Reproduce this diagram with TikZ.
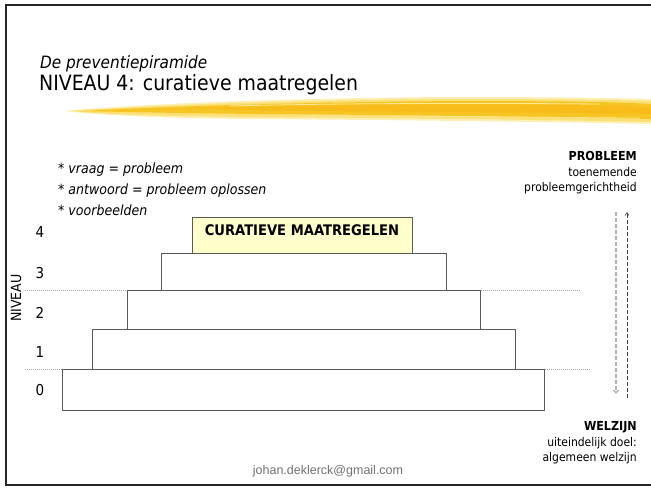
\documentclass[tikz,border=0pt]{standalone}
\usepackage{fontspec}
\setmainfont{DejaVu Sans Condensed}
\newfontfamily\arialfont{Liberation Sans}
\usetikzlibrary{arrows.meta}
\definecolor{tierline}{HTML}{5A5A5A}
\definecolor{topfill}{HTML}{FFFFCC}
\definecolor{brushA}{HTML}{F6C116}
\definecolor{brushB}{HTML}{FBDD6A}
\definecolor{brushC}{HTML}{FDEBA0}
\definecolor{mailgray}{HTML}{707070}
\begin{document}
\begin{tikzpicture}[x=1pt,y=-1pt,
  tier/.style={draw=tierline,line width=0.9pt,fill=white,anchor=north west,inner sep=0pt},
  lvl/.style={font=\fontsize{15}{17}\selectfont,anchor=center,inner sep=0pt},
  bullet/.style={font=\fontsize{14}{16}\selectfont\itshape,anchor=base west,inner sep=0pt},
  rlab/.style={font=\fontsize{12}{14}\selectfont,anchor=base east,inner sep=0pt},
  rbold/.style={font=\fontsize{12.4}{14}\selectfont\bfseries,anchor=base east,inner sep=0pt},
  guide/.style={draw=gray!70,line width=0.5pt,dash pattern=on 1pt off 1pt}
]
\useasboundingbox (0,0) rectangle (651,490);
% frame
\draw[line width=2pt,black!85] (652,5) -- (5.5,5) -- (5.5,485) -- (652,485);
% titles
\node[font=\fontsize{17}{19}\selectfont\itshape,anchor=base west,inner sep=0pt] (t1) at (40,68) {De preventiepiramide};
\node[font=\fontsize{21}{24}\selectfont,anchor=base west,inner sep=0pt] (t2) at (39,90) {NIVEAU 4: curatieve maatregelen};
% brush stroke
\fill[brushC,opacity=0.8] (64,111) .. controls (150,103) and (300,98) .. (450,97)
   .. controls (550,97) and (620,98) .. (651,99) -- (651,124)
   .. controls (560,122) and (400,120) .. (250,119) .. controls (150,118) and (100,115) .. (64,111) -- cycle;
\fill[brushB,opacity=0.8] (70,111) .. controls (150,105) and (300,100) .. (450,99)
   .. controls (550,99) and (620,100) .. (651,101) -- (651,122)
   .. controls (560,120) and (400,118) .. (250,117) .. controls (150,116) and (100,114) .. (70,111) -- cycle;
\fill[brushA,opacity=0.85] (82,111) .. controls (170,106) and (320,102) .. (460,101)
   .. controls (560,101) and (620,102) .. (651,104) -- (651,119)
   .. controls (560,117) and (400,115) .. (260,114) .. controls (170,113) and (120,112) .. (82,111) -- cycle;
\fill[brushA!80!orange,opacity=0.5] (190,108) .. controls (300,105) and (450,104) .. (560,105)
   .. controls (600,105) and (630,106) .. (651,108) -- (651,114)
   .. controls (600,113) and (450,112) .. (300,111) .. controls (240,110) and (210,109) .. (190,108) -- cycle;
\draw[brushC,line width=0.8pt,opacity=0.9] (230,106) .. controls (350,103) and (480,103) .. (600,104);
\draw[brushC,line width=0.6pt,opacity=0.9] (300,116) .. controls (420,116) and (520,117) .. (640,118);
% bullets
\node[bullet] (q1) at (58,173) {* vraag = probleem};
\node[bullet] (q2) at (58,194) {* antwoord = probleem oplossen};
\node[bullet] (q3) at (58,215) {* voorbeelden};
% guides
\coordinate (g1a) at (25,290); \coordinate (g1b) at (580,290);
\coordinate (g2a) at (25,369); \coordinate (g2b) at (590,369);
\draw[guide] (g1a) -- (g1b);
\draw[guide] (g2a) -- (g2b);
% tiers
\node[tier,minimum width=482pt,minimum height=41pt] (b0) at (62,369) {};
\node[tier,minimum width=423pt,minimum height=40pt] (b1) at (92,329) {};
\node[tier,minimum width=353pt,minimum height=39pt] (b2) at (127,290) {};
\node[tier,minimum width=285pt,minimum height=37pt] (b3) at (161,253) {};
\node[tier,fill=topfill,minimum width=220pt,minimum height=36pt] (b4) at (192,217) {};
\node[font=\fontsize{14.6}{16}\selectfont\bfseries,anchor=base,inner sep=0pt] (b4t) at (302,235) {CURATIEVE MAATREGELEN};
% level numbers
\node[lvl] (n4) at (40,232) {4};
\node[lvl] (n3) at (40,273) {3};
\node[lvl] (n2) at (40,313) {2};
\node[lvl] (n1) at (40,352) {1};
\node[lvl] (n0) at (40,390) {0};
\node[font=\fontsize{14}{16}\selectfont,rotate=90,inner sep=0pt] (niv) at (16,298) {NIVEAU};
% right labels
\node[rbold] (pr) at (637,160) {PROBLEEM};
\node[rlab] (pr1) at (637,176) {toenemende};
\node[rlab] (pr2) at (637,191) {probleemgerichtheid};
\node[rbold] (wz) at (637,430) {WELZIJN};
\node[rlab] (wz1) at (637,446) {uiteindelijk doel:};
\node[rlab] (wz2) at (637,461) {algemeen welzijn};
% arrows
\coordinate (d1) at (616,212); \coordinate (d2) at (616,394);
\coordinate (u1) at (627,398); \coordinate (u2) at (627,212);
\draw[gray!60,line width=1.3pt,dash pattern=on 4pt off 2pt,-{Straight Barb[length=3pt,width=5pt]}] (d1) -- (d2);
\draw[black!75,line width=0.6pt,dash pattern=on 4pt off 2pt,-{Straight Barb[length=3pt,width=4pt]}] (u1) -- (u2);
% email
\node[font=\arialfont\fontsize{12.5}{14}\selectfont,text=mailgray,anchor=base,inner sep=0pt] (mail) at (328,474) {johan.deklerck@gmail.com};
\end{tikzpicture}
\end{document}
